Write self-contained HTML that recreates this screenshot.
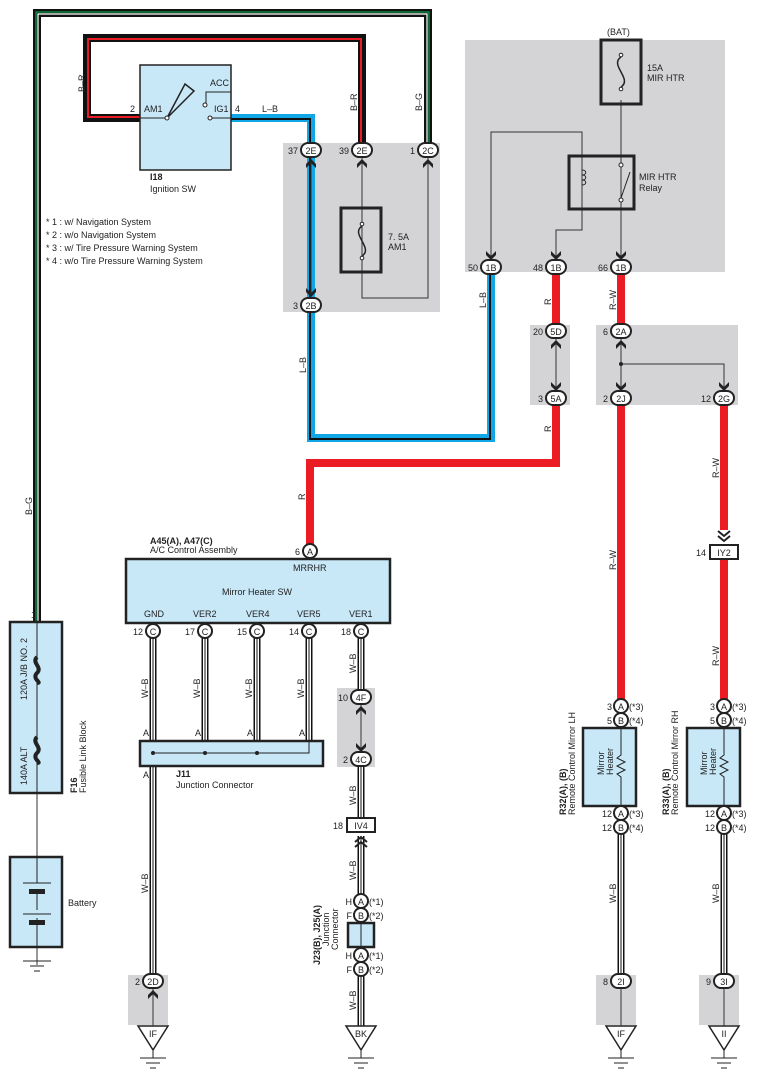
<!DOCTYPE html>
<html><head><meta charset="utf-8"><style>
html,body{margin:0;padding:0;background:#fff}
svg{display:block}
text{font-family:"Liberation Sans",sans-serif;font-size:9px;fill:#222}
</style></head><body>
<svg width="759" height="1080" viewBox="0 0 759 1080" xmlns="http://www.w3.org/2000/svg">
<defs>
<path id="cd" d="M-5,-5 L0,0 L5,-5 L5,-1 L0,4 L-5,-1 Z" fill="#222"/>
<path id="cu" d="M-5,5 L0,0 L5,5 L5,1 L0,-4 L-5,1 Z" fill="#222"/>
</defs>

<!-- gray boxes -->
<g fill="#d4d4d6">
<rect x="283" y="143" width="157" height="169"/>
<rect x="465" y="40" width="260" height="232"/>
<rect x="530" y="325" width="40" height="80"/>
<rect x="596" y="325" width="142" height="80"/>
<rect x="337" y="688" width="38" height="79"/>
<rect x="128" y="975" width="40" height="50"/>
<rect x="596" y="975" width="40" height="50"/>
<rect x="699" y="975" width="40" height="50"/>
</g>

<!-- B-G wire -->
<path d="M37,622 V13 H428 V143" fill="none" stroke="#111" stroke-width="8"/>
<path d="M38,622 V14 H427 V143" fill="none" stroke="#fff" stroke-width="1.2"/>
<path d="M36,622 V12 H429 V143" fill="none" stroke="#0a9a4a" stroke-width="1.3"/>
<!-- B-R -->
<path d="M140,118 H87 V38 H362 V143" fill="none" stroke="#111" stroke-width="8"/>
<path d="M140,117 H88 V39 H361 V143" fill="none" stroke="#e81c24" stroke-width="2"/>
<!-- L-B -->
<path d="M231,118 H311 V438 H491 V275" fill="none" stroke="#11a6e6" stroke-width="8"/>
<path d="M231,119 H310 V439 H490 V275" fill="none" stroke="#111" stroke-width="2"/>
<!-- red wires -->
<g fill="none" stroke="#ec1c24" stroke-width="8">
<path d="M556,275 V325"/>
<path d="M556,404 V463 H310 V545"/>
<path d="M621,275 V325"/>
<path d="M621,404 V699"/>
<path d="M724,404 V530"/>
<path d="M724,558 V699"/>
</g>
<!-- W-B wires -->
<g fill="none">
<g stroke="#111" stroke-width="7">
<path d="M153,638 V975"/><path d="M205,638 V740"/><path d="M257,638 V740"/><path d="M309,638 V740"/>
<path d="M361,638 V690"/><path d="M361,766 V818"/><path d="M361,836 V1028"/>
<path d="M621,833 V975"/><path d="M724,833 V975"/>
</g>
<g stroke="#fff" stroke-width="4">
<path d="M153,638 V975"/><path d="M205,638 V740"/><path d="M257,638 V740"/><path d="M309,638 V740"/>
<path d="M361,638 V690"/><path d="M361,766 V818"/><path d="M361,836 V1028"/>
<path d="M621,833 V975"/><path d="M724,833 V975"/>
</g>
<g stroke="#111" stroke-width="1">
<path d="M153,638 V975"/><path d="M205,638 V740"/><path d="M257,638 V740"/><path d="M309,638 V740"/>
<path d="M361,638 V690"/><path d="M361,766 V818"/><path d="M361,836 V1028"/>
<path d="M621,833 V975"/><path d="M724,833 V975"/>
</g>
</g>

<!-- thin wires in gray boxes -->
<g fill="none" stroke="#333" stroke-width="1">
<path d="M311,158 V298"/>
<path d="M362,158 V298 H428 V158"/>
<path d="M491,260 V132 H582 V230 H556 V260"/>
<path d="M621,100 V260"/>
<path d="M556,338 V391"/>
<path d="M621,338 V391"/>
<path d="M621,364 H724 V391"/>
<path d="M361,704 V752"/>
<path d="M153,988 V1030"/>
<path d="M621,988 V1030"/>
<path d="M724,988 V1030"/>
<path d="M37,793 V857"/><path d="M37,947 V965"/>
</g>
<circle cx="621" cy="364" r="2" fill="#222"/>

<!-- Ignition SW -->
<rect x="140" y="65" width="91" height="105" fill="#c8e8f8" stroke="#222" stroke-width="1.5"/>
<path d="M140,118 H167 M231,92 H206 V104 M231,118 H210" stroke="#222" fill="none"/>
<path d="M167,118 L185,84 L194,91 Z" fill="none" stroke="#222" stroke-width="1.5"/>
<circle cx="167" cy="118" r="2" fill="#fff" stroke="#222"/><circle cx="205" cy="105" r="2" fill="#fff" stroke="#222"/><circle cx="210" cy="118" r="2" fill="#fff" stroke="#222"/>
<text x="210" y="86">ACC</text><text x="214" y="112">IG1</text><text x="144" y="112">AM1</text>
<text x="130" y="112">2</text><text x="235" y="112">4</text><text x="262" y="112">L–B</text>
<text x="150" y="180" font-weight="bold">I18</text><text x="150" y="192">Ignition SW</text>

<!-- notes -->
<text x="46" y="225">* 1 : w/ Navigation System</text>
<text x="46" y="238">* 2 : w/o Navigation System</text>
<text x="46" y="251">* 3 : w/ Tire Pressure Warning System</text>
<text x="46" y="264">* 4 : w/o Tire Pressure Warning System</text>

<!-- 7.5A fuse -->
<rect x="341" y="208" width="40" height="64" fill="none" stroke="#222" stroke-width="3"/>
<circle cx="362" cy="224" r="1.8" fill="#fff" stroke="#222"/><circle cx="362" cy="258" r="1.8" fill="#fff" stroke="#222"/>
<path d="M362,226 C350,234 374,248 362,256" fill="none" stroke="#222" stroke-width="1.5"/>
<text x="388" y="240">7. 5A</text><text x="388" y="250">AM1</text>

<!-- BAT fuse & relay -->
<text x="607" y="35">(BAT)</text>
<rect x="601" y="40" width="40" height="64" fill="none" stroke="#222" stroke-width="3"/>
<circle cx="621" cy="55" r="1.8" fill="#fff" stroke="#222"/><circle cx="621" cy="89" r="1.8" fill="#fff" stroke="#222"/>
<path d="M621,57 C609,65 633,79 621,87" fill="none" stroke="#222" stroke-width="1.5"/>
<text x="647" y="71">15A</text><text x="647" y="81">MIR HTR</text>
<rect x="569" y="156" width="65" height="53" fill="none" stroke="#222" stroke-width="3"/>
<path d="M582,170 c5,0 5,5 0,5 c5,0 5,5 0,5 c5,0 5,5 0,5" fill="none" stroke="#222"/>
<path d="M621,198 L630,172" stroke="#222"/>
<circle cx="621" cy="165" r="2" fill="#fff" stroke="#222"/><circle cx="621" cy="200" r="2" fill="#fff" stroke="#222"/>
<text x="639" y="180">MIR HTR</text><text x="639" y="191">Relay</text>

<!-- A/C control -->
<rect x="126" y="559" width="264" height="64" fill="#c8e8f8" stroke="#222" stroke-width="2.5"/>
<text x="150" y="544" font-weight="bold">A45(A), A47(C)</text><text x="150" y="553">A/C Control Assembly</text>
<text x="293" y="571">MRRHR</text><text x="222" y="595">Mirror Heater SW</text>
<text x="144" y="617">GND</text><text x="193" y="617">VER2</text><text x="246" y="617">VER4</text><text x="297" y="617">VER5</text><text x="349" y="617">VER1</text>

<!-- J11 -->
<rect x="140" y="741" width="183" height="25" fill="#c8e8f8" stroke="#222" stroke-width="2.5"/>
<path d="M153,753 H309 V741" fill="none" stroke="#222"/>
<g fill="#222"><circle cx="153" cy="753" r="2"/><circle cx="205" cy="753" r="2"/><circle cx="257" cy="753" r="2"/></g>
<text x="143" y="736">A</text><text x="195" y="736">A</text><text x="247" y="736">A</text><text x="299" y="736">A</text><text x="143" y="778">A</text>
<text x="176" y="777" font-weight="bold">J11</text><text x="176" y="788">Junction Connector</text>

<!-- Fusible link -->
<rect x="10" y="622" width="52" height="171" fill="#c8e8f8" stroke="#222" stroke-width="2.5"/>
<path d="M37,622 V793" stroke="#222"/>
<path d="M37,657 c-6,6 6,10 0,16 c-6,6 6,10 0,10" fill="none" stroke="#222" stroke-width="4"/>
<path d="M37,737 c-6,6 6,10 0,16 c-6,6 6,10 0,10" fill="none" stroke="#222" stroke-width="4"/>
<text transform="translate(27,700) rotate(-90)">120A J/B NO. 2</text>
<text transform="translate(27,785) rotate(-90)">140A ALT</text>
<text x="31" y="618">1</text>
<text transform="translate(77,793) rotate(-90)" font-weight="bold">F16</text>
<text transform="translate(86,793) rotate(-90)">Fusible Link Block</text>

<!-- Battery -->
<rect x="10" y="857" width="52" height="90" fill="#c8e8f8" stroke="#222" stroke-width="2.5"/>
<path d="M37,857 V883 M23,883 H51 M37,891 V910 M23,914 H51 M37,918 V947" stroke="#222" fill="none"/>
<rect x="29" y="889" width="16" height="5" fill="#222"/><rect x="29" y="920" width="16" height="5" fill="#222"/>
<text x="68" y="906">Battery</text>
<path d="M23,961 H51 M30,966 H44 M34,971 H40" stroke="#222"/>

<!-- J23 -->
<rect x="348" y="923" width="26" height="24" fill="#c8e8f8" stroke="#222" stroke-width="2.5"/>
<path d="M361,923 V947" stroke="#222"/>
<text transform="translate(320,965) rotate(-90)" font-weight="bold">J23(B), J25(A)</text>
<text transform="translate(329,946) rotate(-90)">Junction</text>
<text transform="translate(338,950) rotate(-90)">Connector</text>

<!-- Mirrors -->
<rect x="583" y="728" width="53" height="78" fill="#c8e8f8" stroke="#222" stroke-width="2.5"/>
<rect x="687" y="728" width="53" height="78" fill="#c8e8f8" stroke="#222" stroke-width="2.5"/>
<path d="M621,728 V755 l-4,3 8,4 -8,4 8,4 -8,4 4,3 V806 M724,728 V755 l-4,3 8,4 -8,4 8,4 -8,4 4,3 V806" fill="none" stroke="#222"/>
<text transform="translate(604,775) rotate(-90)">Mirror</text><text transform="translate(613,775) rotate(-90)">Heater</text>
<text transform="translate(707,775) rotate(-90)">Mirror</text><text transform="translate(716,775) rotate(-90)">Heater</text>
<text transform="translate(566,815) rotate(-90)" font-weight="bold">R32(A), (B)</text>
<text transform="translate(575,815) rotate(-90)">Remote Control Mirror LH</text>
<text transform="translate(669,815) rotate(-90)" font-weight="bold">R33(A), (B)</text>
<text transform="translate(678,815) rotate(-90)">Remote Control Mirror RH</text>

<!-- wire labels -->
<g>
<text transform="translate(85,92) rotate(-90)">B–R</text>
<text transform="translate(357,111) rotate(-90)">B–R</text>
<text transform="translate(422,111) rotate(-90)">B–G</text>
<text transform="translate(32,515) rotate(-90)">B–G</text>
<text transform="translate(306,373) rotate(-90)">L–B</text>
<text transform="translate(486,308) rotate(-90)">L–B</text>
<text transform="translate(551,305) rotate(-90)">R</text>
<text transform="translate(551,432) rotate(-90)">R</text>
<text transform="translate(305,500) rotate(-90)">R</text>
<text transform="translate(616,310) rotate(-90)">R–W</text>
<text transform="translate(616,570) rotate(-90)">R–W</text>
<text transform="translate(719,478) rotate(-90)">R–W</text>
<text transform="translate(719,666) rotate(-90)">R–W</text>
<text transform="translate(148,698) rotate(-90)">W–B</text>
<text transform="translate(200,698) rotate(-90)">W–B</text>
<text transform="translate(252,698) rotate(-90)">W–B</text>
<text transform="translate(304,698) rotate(-90)">W–B</text>
<text transform="translate(356,673) rotate(-90)">W–B</text>
<text transform="translate(356,805) rotate(-90)">W–B</text>
<text transform="translate(356,880) rotate(-90)">W–B</text>
<text transform="translate(356,1010) rotate(-90)">W–B</text>
<text transform="translate(148,893) rotate(-90)">W–B</text>
<text transform="translate(616,903) rotate(-90)">W–B</text>
<text transform="translate(719,903) rotate(-90)">W–B</text>
</g>

<!-- oval connectors -->
<g stroke="#222" stroke-width="2" fill="#fff">
<rect x="301" y="143" width="20" height="14" rx="7"/><rect x="352" y="143" width="20" height="14" rx="7"/><rect x="418" y="143" width="20" height="14" rx="7"/>
<rect x="301" y="298" width="20" height="14" rx="7"/>
<rect x="481" y="260" width="20" height="14" rx="7"/><rect x="546" y="260" width="20" height="14" rx="7"/><rect x="611" y="260" width="20" height="14" rx="7"/>
<rect x="546" y="324" width="20" height="14" rx="7"/><rect x="546" y="391" width="20" height="14" rx="7"/>
<rect x="611" y="324" width="20" height="14" rx="7"/><rect x="611" y="391" width="20" height="14" rx="7"/><rect x="714" y="391" width="20" height="14" rx="7"/>
<rect x="351" y="690" width="20" height="14" rx="7"/><rect x="351" y="752" width="20" height="14" rx="7"/>
<rect x="143" y="974" width="20" height="14" rx="7"/><rect x="611" y="974" width="20" height="14" rx="7"/><rect x="714" y="974" width="20" height="14" rx="7"/>
</g>
<g text-anchor="middle">
<text x="311" y="154">2E</text><text x="362" y="154">2E</text><text x="428" y="154">2C</text><text x="311" y="309">2B</text>
<text x="491" y="271">1B</text><text x="556" y="271">1B</text><text x="621" y="271">1B</text>
<text x="556" y="335">5D</text><text x="556" y="402">5A</text><text x="621" y="335">2A</text><text x="621" y="402">2J</text><text x="724" y="402">2G</text>
<text x="361" y="701">4F</text><text x="361" y="763">4C</text>
<text x="153" y="985">2D</text><text x="621" y="985">2I</text><text x="724" y="985">3I</text>
</g>
<g text-anchor="end">
<text x="298" y="154">37</text><text x="349" y="154">39</text><text x="415" y="154">1</text><text x="298" y="309">3</text>
<text x="478" y="271">50</text><text x="543" y="271">48</text><text x="608" y="271">66</text>
<text x="543" y="335">20</text><text x="543" y="402">3</text><text x="608" y="335">6</text><text x="608" y="402">2</text><text x="711" y="402">12</text>
<text x="348" y="701">10</text><text x="348" y="763">2</text>
<text x="140" y="985">2</text><text x="608" y="985">8</text><text x="711" y="985">9</text>
</g>
<!-- chevrons -->
<use href="#cu" x="311" y="163"/><use href="#cu" x="362" y="163"/><use href="#cu" x="428" y="163"/>
<use href="#cd" x="311" y="293"/>
<use href="#cd" x="491" y="256"/><use href="#cd" x="556" y="256"/><use href="#cd" x="621" y="256"/>
<use href="#cu" x="556" y="344"/><use href="#cd" x="556" y="387"/>
<use href="#cu" x="621" y="344"/><use href="#cd" x="621" y="387"/><use href="#cd" x="724" y="387"/>
<use href="#cu" x="361" y="710"/><use href="#cd" x="361" y="748"/>
<use href="#cu" x="153" y="994"/>

<!-- round connectors -->
<g stroke="#222" stroke-width="2" fill="#fff">
<circle cx="310" cy="551" r="7"/>
<circle cx="153" cy="631" r="7"/><circle cx="205" cy="631" r="7"/><circle cx="257" cy="631" r="7"/><circle cx="309" cy="631" r="7"/><circle cx="361" cy="631" r="7"/>
<circle cx="361" cy="901" r="7"/><circle cx="361" cy="915" r="7"/><circle cx="361" cy="955" r="7"/><circle cx="361" cy="969" r="7"/>
<circle cx="621" cy="706" r="7"/><circle cx="621" cy="720" r="7"/><circle cx="621" cy="813" r="7"/><circle cx="621" cy="827" r="7"/>
<circle cx="724" cy="706" r="7"/><circle cx="724" cy="720" r="7"/><circle cx="724" cy="813" r="7"/><circle cx="724" cy="827" r="7"/>
</g>
<g text-anchor="middle">
<text x="310" y="555">A</text>
<text x="153" y="635">C</text><text x="205" y="635">C</text><text x="257" y="635">C</text><text x="309" y="635">C</text><text x="361" y="635">C</text>
<text x="361" y="905">A</text><text x="361" y="919">B</text><text x="361" y="959">A</text><text x="361" y="973">B</text>
<text x="621" y="710">A</text><text x="621" y="724">B</text><text x="621" y="817">A</text><text x="621" y="831">B</text>
<text x="724" y="710">A</text><text x="724" y="724">B</text><text x="724" y="817">A</text><text x="724" y="831">B</text>
</g>
<g text-anchor="end">
<text x="300" y="555">6</text>
<text x="143" y="635">12</text><text x="195" y="635">17</text><text x="247" y="635">15</text><text x="299" y="635">14</text><text x="351" y="635">18</text>
<text x="352" y="905">H</text><text x="352" y="919">F</text><text x="352" y="959">H</text><text x="352" y="973">F</text>
<text x="612" y="710">3</text><text x="612" y="724">5</text><text x="612" y="817">12</text><text x="612" y="831">12</text>
<text x="715" y="710">3</text><text x="715" y="724">5</text><text x="715" y="817">12</text><text x="715" y="831">12</text>
</g>
<g>
<text x="369" y="905">(*1)</text><text x="369" y="919">(*2)</text><text x="369" y="959">(*1)</text><text x="369" y="973">(*2)</text>
<text x="629" y="710">(*3)</text><text x="629" y="724">(*4)</text><text x="629" y="817">(*3)</text><text x="629" y="831">(*4)</text>
<text x="732" y="710">(*3)</text><text x="732" y="724">(*4)</text><text x="732" y="817">(*3)</text><text x="732" y="831">(*4)</text>
</g>

<!-- in-line connectors IY2, IV4 -->
<rect x="710" y="545" width="28" height="14" fill="#fff" stroke="#222" stroke-width="2"/>
<text x="724" y="556" text-anchor="middle">IY2</text><text x="706" y="556" text-anchor="end">14</text>
<path d="M718,531 l6,5 6,-5 M718,536 l6,5 6,-5" fill="none" stroke="#222" stroke-width="2"/>
<rect x="347" y="818" width="28" height="14" fill="#fff" stroke="#222" stroke-width="2"/>
<text x="361" y="829" text-anchor="middle">IV4</text><text x="343" y="829" text-anchor="end">18</text>
<path d="M355,842 l6,-5 6,5 M355,847 l6,-5 6,5" fill="none" stroke="#222" stroke-width="2"/>

<!-- grounds -->
<g fill="#fff" stroke="#222" stroke-width="1.5">
<path d="M138,1026 H168 L153,1050 Z"/><path d="M346,1026 H376 L361,1050 Z"/>
<path d="M606,1026 H636 L621,1050 Z"/><path d="M709,1026 H739 L724,1050 Z"/>
</g>
<g stroke="#222" fill="none">
<path d="M153,1050 V1058 M140,1058 H166 M146,1063 H160 M150,1068 H156"/>
<path d="M361,1050 V1058 M348,1058 H374 M354,1063 H368 M358,1068 H364"/>
<path d="M621,1050 V1058 M608,1058 H634 M614,1063 H628 M618,1068 H624"/>
<path d="M724,1050 V1058 M711,1058 H737 M717,1063 H731 M721,1068 H727"/>
</g>
<g text-anchor="middle">
<text x="153" y="1037">IF</text><text x="361" y="1037">BK</text><text x="621" y="1037">IF</text><text x="724" y="1037">II</text>
</g>
</svg>
</body></html>
